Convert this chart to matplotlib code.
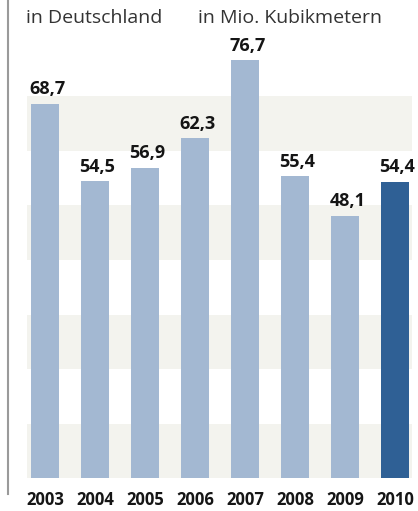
import matplotlib
matplotlib.use('Agg')
import matplotlib.pyplot as plt
from matplotlib.lines import Line2D

years = ['2003', '2004', '2005', '2006', '2007', '2008', '2009', '2010']
values = [68.7, 54.5, 56.9, 62.3, 76.7, 55.4, 48.1, 54.4]
labels = ['68,7', '54,5', '56,9', '62,3', '76,7', '55,4', '48,1', '54,4']
band_ranges = [(0, 10), (20, 30), (40, 50), (60, 70)]

plt.rcParams['font.family'] = ['Open Sans', 'DejaVu Sans']

W, H = 418, 511
fig = plt.figure(figsize=(W / 100, H / 100), dpi=100)
ax = fig.add_axes([27 / W, 33 / H, 385 / W, 478 / H])

for (lo, hi) in band_ranges:
    ax.axhspan(lo, hi, color='#f3f3ee', lw=0, zorder=0)

colors = ['#a3b8d2'] * (len(values) - 1) + ['#2f6095']
x = list(range(len(values)))
ax.bar(x, values, width=0.55, color=colors, zorder=2)
for (i, v) in enumerate(values):
    ax.text(i + 0.05, v + 1.0, labels[i], ha='center', va='bottom',
            fontsize=13, fontweight='bold', color='#151515')

ax.set_xlim(-0.36, 7.34)
ax.set_ylim(0, 478 / 5.45)
ax.axis('off')

for (i, y) in enumerate(years):
    fig.text((45 + 50 * i) / W, 1 - 500 / H, y, ha='center', va='center',
             fontsize=12, fontweight='bold', color='#151515')

fig.text(26 / W, 1 - 18 / H, 'in Deutschland', ha='left', va='center',
         fontsize=14, color='#333333')
fig.text(198 / W, 1 - 18 / H, 'in Mio. Kubikmetern', ha='left', va='center',
         fontsize=14, color='#333333')

fig.add_artist(Line2D([8 / W, 8 / W], [1, 1 - 494 / H], color='#9a9a9a', lw=1.5))

fig.savefig('out.png', dpi=100)
